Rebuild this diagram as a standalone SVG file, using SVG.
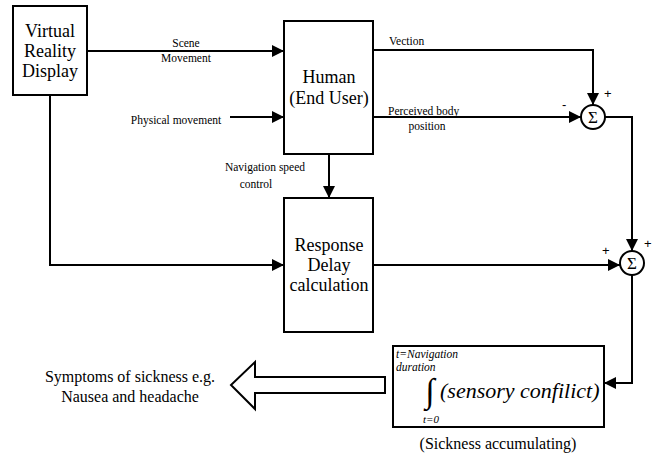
<svg xmlns="http://www.w3.org/2000/svg" width="670" height="455" viewBox="0 0 670 455" font-family="'Liberation Serif', 'Times New Roman', 'DejaVu Serif', serif">
<defs>
<marker id="ah" viewBox="0 0 10 10" refX="10" refY="5" markerWidth="12" markerHeight="12" markerUnits="userSpaceOnUse" orient="auto">
<path d="M0,0 L10,5 L0,10 Z" fill="#000"/>
</marker>
</defs>
<style>
text{font-family:'Liberation Serif','Times New Roman','DejaVu Serif',serif}
.box{fill:#fff;stroke:#000;stroke-width:2}
.ln{fill:none;stroke:#000;stroke-width:2}
.big{font-size:18px;text-anchor:middle}
.sm{font-size:11.5px}
.mid{font-size:16px;text-anchor:middle}
.it{font-style:italic}
text.pm{font-family:'Liberation Sans',sans-serif;font-size:13px}
</style>
<rect width="670" height="455" fill="#fff"/>
<g id="connectors">
<path class="ln" d="M87,51 H284" marker-end="url(#ah)"/>
<path class="ln" d="M230,117 H284" marker-end="url(#ah)"/>
<path class="ln" d="M329,154 V198" marker-end="url(#ah)"/>
<path class="ln" d="M50,95 V265 H284" marker-end="url(#ah)"/>
<path class="ln" d="M373,50 H593 V105" marker-end="url(#ah)"/>
<path class="ln" d="M373,117 H581" marker-end="url(#ah)"/>
<path class="ln" d="M605,117 H632 V251" marker-end="url(#ah)"/>
<path class="ln" d="M373,265 H620" marker-end="url(#ah)"/>
<path class="ln" d="M632,275 V383 H604" marker-end="url(#ah)"/>
<text class="sm" x="186" y="47" text-anchor="middle">Scene</text>
<text class="sm" x="186" y="62" text-anchor="middle">Movement</text>
<text class="sm" x="176" y="124" text-anchor="middle">Physical movement</text>
<text class="sm" x="265" y="171" text-anchor="middle">Navigation speed</text>
<text class="sm" x="256" y="188" text-anchor="middle">control</text>
<text class="sm" x="389" y="45">Vection</text>
<text class="sm" x="388" y="115">Perceived body</text>
<text class="sm" x="427" y="130" text-anchor="middle">position</text>
<text class="pm" x="604" y="98">+</text>
<text class="pm" x="562" y="109">-</text>
<text class="pm" x="644" y="248">+</text>
<text class="pm" x="602" y="255">+</text>
</g>
<g id="vr">
<rect class="box" x="13" y="6" width="74" height="89"/>
<text class="big" x="50" y="37">Virtual</text>
<text class="big" x="50" y="57">Reality</text>
<text class="big" x="50" y="77">Display</text>
</g>
<g id="human">
<rect class="box" x="284" y="21" width="89" height="133"/>
<text class="big" x="329" y="83">Human</text>
<text class="big" x="329" y="104">(End User)</text>
</g>
<g id="response">
<rect class="box" x="284" y="198" width="89" height="134"/>
<text class="big" x="329" y="251">Response</text>
<text class="big" x="329" y="271">Delay</text>
<text class="big" x="329" y="291">calculation</text>
</g>
<g id="sum1">
<circle cx="593" cy="117" r="12" fill="#fff" stroke="#000" stroke-width="2"/>
<text x="593" y="123" font-size="17" text-anchor="middle">Σ</text>
</g>
<g id="sum2">
<circle cx="632" cy="263" r="12" fill="#fff" stroke="#000" stroke-width="2"/>
<text x="632" y="269" font-size="17" text-anchor="middle">Σ</text>
</g>
<g id="integral">
<rect class="box" x="393" y="346" width="211" height="81"/>
<text class="it" x="396" y="358" font-size="11.5">t=Navigation</text>
<text class="it" x="396" y="371" font-size="11.5">duration</text>
<text class="it" x="423" y="423" font-size="11">t=0</text>
<text x="430" y="402" font-size="34" text-anchor="middle">∫</text>
<text class="it" x="440" y="398" font-size="22">(sensory confilict)</text>
<text class="mid" x="498" y="449">(Sickness accumulating)</text>
</g>
<g id="symptoms">
<path d="M385,377 H255 V362 L231,385 L255,409 V393 H385 Z" fill="#fff" stroke="#000" stroke-width="2"/>
<text class="mid" x="130" y="382">Symptoms of sickness e.g.</text>
<text class="mid" x="130" y="402">Nausea and headache</text>
</g>
</svg>
